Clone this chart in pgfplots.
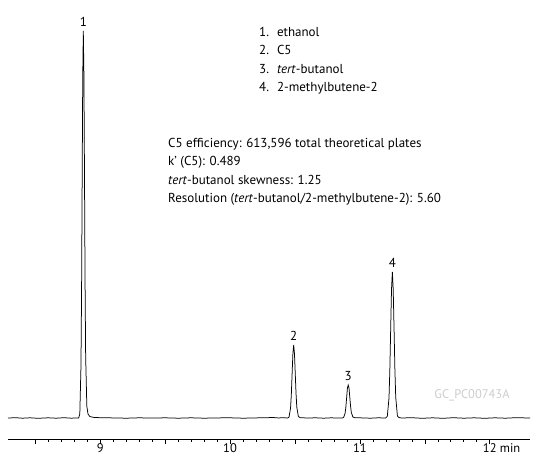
\documentclass[border=0pt]{standalone}
\usepackage{fontspec}
\setmainfont{PT Sans}
\usepackage{pgfplots}
\pgfplotsset{compat=1.18}

\definecolor{wmgray}{RGB}{205,205,205}

\begin{document}
\begin{tikzpicture}[x=1pt,y=1pt]
\useasboundingbox (0,0) rectangle (533,459);
\begin{axis}[
    at={(8pt,20pt)}, anchor=south west,
    scale only axis,
    width=522pt, height=439pt,
    xmin=8.29, xmax=12.31,
    ymin=-21, ymax=418,
    axis x line=bottom, axis y line=none,
    axis line style={-, line width=0.6pt},
    xtick={8.5,9,9.5,10,10.5,11,11.5,12},
    xticklabels={,9,,10,,11,,12\rlap{ min}},
    minor x tick num=4,
    tick align=outside,
    major tick length=5pt, minor tick length=3pt,
    tick style={black, line width=0.6pt},
    every tick label/.append style={font=\fontsize{12.5}{14}\selectfont},
    xticklabel style={yshift=2pt, inner sep=1pt},
    /pgf/number format/assume math mode=true,
    clip=false,
]
% chromatogram (signal above baseline)
\addplot[black, line width=0.75pt] coordinates {
(8.29,0) (8.35,0.3) (8.4,-0.2) (8.46,0.2) (8.52,-0.3) (8.6,0.2) (8.66,-0.2)
(8.72,0.3) (8.78,-0.2) (8.81,0.1) (8.834,0)
(8.843,4) (8.852,52) (8.8565,125) (8.861,234) (8.8655,340) (8.870,387)
(8.8745,345) (8.879,245) (8.8835,135) (8.888,62) (8.897,12) (8.906,4)
(8.92,1.5) (8.95,0.6) (9.0,0.3) (9.1,0.1) (9.2,-0.2) (9.3,0.2) (9.4,-0.1)
(9.5,0.2) (9.6,-0.2) (9.7,0.2) (9.8,-0.2) (9.9,0.1) (10.0,0.2) (10.1,-0.2)
(10.2,0.1) (10.28,0.3) (10.33,0.5) (10.37,0.1) (10.42,0.2) (10.442,0)
(10.454,0.8) (10.466,9.9) (10.472,23.7) (10.478,44.3) (10.484,64.4) (10.49,73)
(10.496,64.6) (10.502,45) (10.508,25) (10.514,11) (10.526,1.5) (10.54,0.3)
(10.6,0) (10.66,0.2) (10.72,-0.2) (10.78,0.2) (10.83,-0.1) (10.862,0)
(10.874,0.4) (10.886,4.6) (10.892,11) (10.898,20.6) (10.904,30) (10.91,33)
(10.916,30.2) (10.922,21) (10.928,12) (10.934,5.5) (10.946,1) (10.96,0.3)
(11.02,0.1) (11.08,-0.2) (11.14,0.2) (11.198,0)
(11.211,1.6) (11.224,19.7) (11.2305,47.5) (11.237,88.6) (11.2435,128.8) (11.25,146)
(11.2565,129) (11.263,89.5) (11.2695,48.5) (11.276,20.5) (11.289,2) (11.30,0.5)
(11.32,0) (11.4,0.3) (11.48,-0.3) (11.56,0.2) (11.64,-0.3) (11.72,0.3)
(11.8,-0.2) (11.88,0.2) (11.96,-0.3) (12.04,0.2) (12.12,-0.2) (12.2,0.3) (12.31,0)
};
% peak numbers
\node[anchor=south, inner sep=1pt, font=\fontsize{13}{15}\selectfont] at (axis cs:8.87,390) {1};
\node[anchor=south, inner sep=1pt, font=\fontsize{13}{15}\selectfont] at (axis cs:10.49,76) {2};
\node[anchor=south, inner sep=1pt, font=\fontsize{13}{15}\selectfont] at (axis cs:10.91,36) {3};
\node[anchor=south, inner sep=1pt, font=\fontsize{13}{15}\selectfont] at (axis cs:11.25,149) {4};
\end{axis}

% compound list
\node[anchor=north west, inner sep=0pt, font=\fontsize{13}{18.5}\selectfont, align=left]
  at (259,459-23) {%
  \begin{tabular}{@{}l@{\hspace{8pt}}l@{}}
  1. & ethanol\\[0pt]
  2. & C5\\[0pt]
  3. & \textit{tert}-butanol\\[0pt]
  4. & 2-methylbutene-2
  \end{tabular}};

% performance notes
\node[anchor=north west, inner sep=0pt, font=\fontsize{13}{18.5}\selectfont, align=left]
  at (168,459-138) {%
  C5 efficiency: 613,596 total theoretical plates\\
  k' (C5): 0.489\\
  \textit{tert}-butanol skewness: 1.25\\
  Resolution (\textit{tert}-butanol/2-methylbutene-2): 5.60};

% figure code
\node[text=wmgray, font=\fontsize{12.5}{14}\selectfont] at (472,459-395) {GC\_PC00743A};
\end{tikzpicture}
\end{document}
